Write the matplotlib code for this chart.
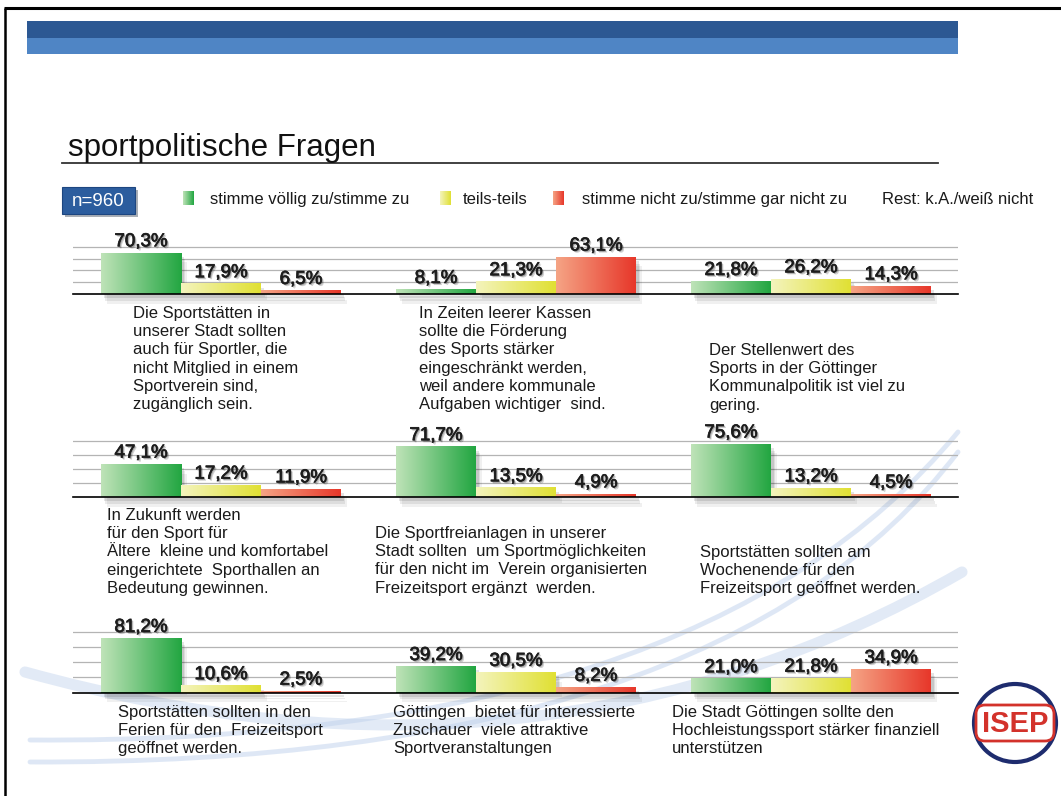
import numpy as np
import matplotlib
matplotlib.use("Agg")
import matplotlib.pyplot as plt
from matplotlib.patches import Rectangle, FancyBboxPatch, Ellipse, PathPatch
from matplotlib.path import Path
from matplotlib.colors import LinearSegmentedColormap
import matplotlib.patheffects as pe

plt.rcParams['font.family'] = ['Liberation Sans', 'DejaVu Sans']

# ---------------- data ----------------
title = "sportpolitische Fragen"
sample_label = "n=960"
series_names = ["stimme völlig zu/stimme zu", "teils-teils",
                "stimme nicht zu/stimme gar nicht zu"]
rest_note = "Rest: k.A./weiß nicht"

row1_values = [[70.3, 17.9, 6.5], [8.1, 21.3, 63.1], [21.8, 26.2, 14.3]]
row2_values = [[47.1, 17.2, 11.9], [71.7, 13.5, 4.9], [75.6, 13.2, 4.5]]
row3_values = [[81.2, 10.6, 2.5], [39.2, 30.5, 8.2], [21.0, 21.8, 34.9]]

row1_questions = [
    "Die Sportstätten in\nunserer Stadt sollten\nauch für Sportler, die\nnicht Mitglied in einem\nSportverein sind,\nzugänglich sein.",
    "In Zeiten leerer Kassen\nsollte die Förderung\ndes Sports stärker\neingeschränkt werden,\nweil andere kommunale\nAufgaben wichtiger  sind.",
    "Der Stellenwert des\nSports in der Göttinger\nKommunalpolitik ist viel zu\ngering.",
]
row2_questions = [
    "In Zukunft werden\nfür den Sport für\nÄltere  kleine und komfortabel\neingerichtete  Sporthallen an\nBedeutung gewinnen.",
    "Die Sportfreianlagen in unserer\nStadt sollten  um Sportmöglichkeiten\nfür den nicht im  Verein organisierten\nFreizeitsport ergänzt  werden.",
    "Sportstätten sollten am\nWochenende für den\nFreizeitsport geöffnet werden.",
]
row3_questions = [
    "Sportstätten sollten in den\nFerien für den  Freizeitsport\ngeöffnet werden.",
    "Göttingen  bietet für interessierte\nZuschauer  viele attraktive\nSportveranstaltungen",
    "Die Stadt Göttingen sollte den\nHochleistungssport stärker finanziell\nunterstützen",
]

# ---------------- style / layout ----------------
W, H = 1061, 796
fig = plt.figure(figsize=(W / 100, H / 100), dpi=100)
fig.patch.set_facecolor("white")

bg = fig.add_axes([0, 0, 1, 1], zorder=0)
bg.set_xlim(0, W)
bg.set_ylim(H, 0)
bg.axis("off")

grad_pairs = [("#bfe3b8", "#22a641"), ("#f4f4bd", "#e0e033"), ("#f5a485", "#e7372a")]
cmaps = [LinearSegmentedColormap.from_list("g%d" % i, p) for i, p in enumerate(grad_pairs)]
ramp = np.linspace(0, 1, 128).reshape(1, -1)

# slide frame
bg.plot([4, W], [8, 8], color="black", lw=2.2, solid_capstyle="butt")
bg.plot([5, 5], [8, H], color="black", lw=1.8, solid_capstyle="butt")

# header bars
bg.add_patch(Rectangle((27, 21), 931, 17, fc="#2c5893", ec="none"))
bg.add_patch(Rectangle((27, 38), 931, 16, fc="#4f85c5", ec="none"))

# decorative swooshes
def swoosh(p0, p1, p2, lw, alpha):
    path = Path([p0, p1, p2], [Path.MOVETO, Path.CURVE3, Path.CURVE3])
    bg.add_patch(PathPatch(path, fill=False, ec="#bfd1ec", lw=lw, alpha=alpha,
                           capstyle="round", zorder=0.5))

swoosh((25, 672), (540, 815), (962, 572), 8, 0.45)
swoosh((30, 740), (700, 745), (958, 432), 3.5, 0.5)
swoosh((30, 762), (720, 765), (958, 452), 3.5, 0.5)

# title and underline
bg.text(68, 156, title, fontsize=22.5, color="#111111", va="baseline", ha="left")
bg.plot([62, 938], [162.5, 162.5], color="#333333", lw=1.3)

# n box
bg.add_patch(FancyBboxPatch((62, 187), 73, 27, boxstyle="square,pad=0",
                            fc="#2c5d9e", ec="#1d4680", lw=0.8,
                            path_effects=[pe.SimplePatchShadow(offset=(2, -2.5), alpha=0.35),
                                          pe.Normal()]))
bg.text(98.5, 201, sample_label, color="white", fontsize=13.5, ha="center", va="center")

# legend
leg_sq_x = [183, 440, 553]
leg_txt_x = [210, 463, 582]
for i in range(3):
    sq = Rectangle((leg_sq_x[i], 191), 11, 14, fc=grad_pairs[i][1], ec="none")
    bg.add_patch(sq)
    im = bg.imshow(ramp, cmap=cmaps[i], extent=(leg_sq_x[i], leg_sq_x[i] + 11, 205, 191),
                   aspect="auto", zorder=2)
    im.set_clip_path(sq)
    bg.text(leg_txt_x[i], 204, series_names[i], fontsize=12, color="#1a1a1a",
            va="baseline", ha="left")
bg.text(882, 204, rest_note, fontsize=12, color="#1a1a1a", va="baseline", ha="left")
bg.set_xlim(0, W)
bg.set_ylim(H, 0)

# chart rows
rows_values = [row1_values, row2_values, row3_values]
rows_questions = [row1_questions, row2_questions, row3_questions]
base_px = [294, 497, 692.5]
px_per_pct = [0.59, 0.705, 0.67]
grid_step = [20, 20, 22.4]
axes_h_px = 80
x_left, x_right = 73, 958
col_start, col_step, bar_w = 101, 295, 80
text_pos = [[(133, 313), (419, 313), (709, 350)],
            [(107, 515), (375, 533), (700, 552)],
            [(118, 712), (393, 712), (672, 712)]]

bar_shadow = [pe.SimplePatchShadow(offset=(2, -3), shadow_rgbFace="k", alpha=0.10),
              pe.SimplePatchShadow(offset=(3, -5), shadow_rgbFace="k", alpha=0.08),
              pe.SimplePatchShadow(offset=(4, -7), shadow_rgbFace="k", alpha=0.06),
              pe.Normal()]
label_shadow = [pe.SimplePatchShadow(offset=(1.5, -1.5), shadow_rgbFace="#000000", alpha=0.18),
                pe.SimplePatchShadow(offset=(0.8, -0.8), shadow_rgbFace="#000000", alpha=0.35),
                pe.Stroke(linewidth=0.5, foreground="#1c1c1c"),
                pe.Normal()]

for r in range(3):
    ax = fig.add_axes([x_left / W, 1 - base_px[r] / H, (x_right - x_left) / W, axes_h_px / H],
                      zorder=1)
    ax.patch.set_visible(False)
    ymax = axes_h_px / px_per_pct[r]
    for c in range(3):
        vals = rows_values[r][c]
        xs = [col_start + col_step * c + bar_w * (s + 0.5) for s in range(3)]
        bars = ax.bar(xs, vals, width=bar_w, color=[p[1] for p in grad_pairs],
                      edgecolor="none", zorder=3, clip_on=False, path_effects=bar_shadow)
        for s, b in enumerate(bars):
            x0, w, h = b.get_x(), b.get_width(), b.get_height()
            im = ax.imshow(ramp, cmap=cmaps[s], extent=(x0, x0 + w, 0, h),
                           aspect="auto", zorder=4)
            im.set_clip_path(b)
            lbl = ("%.1f" % vals[s]).replace(".", ",") + "%"
            ax.annotate(lbl, (xs[s], h), xytext=(0, 4.5), textcoords="offset points",
                        ha="center", va="baseline", fontsize=13.5, color="#1c1c1c",
                        zorder=6, path_effects=label_shadow, annotation_clip=False)
        tx, ty = text_pos[r][c]
        bg.text(tx, ty - 7, rows_questions[r][c], fontsize=12, color="#1a1a1a",
                ha="left", va="top", linespacing=1.27)
    ax.set_xlim(x_left, x_right)
    ax.set_ylim(0, ymax)
    ax.set_yticks([grid_step[r] * k for k in range(1, 5)])
    ax.set_xticks([])
    ax.grid(axis="y", color="#b4b4b4", lw=0.9)
    ax.set_axisbelow(True)
    ax.tick_params(length=0, labelleft=False, labelbottom=False)
    for sp in ["top", "left", "right"]:
        ax.spines[sp].set_visible(False)
    ax.spines["bottom"].set_color("black")
    ax.spines["bottom"].set_linewidth(1.2)
    ax.spines["bottom"].set_zorder(5)

# ISEP logo
bg.add_patch(Ellipse((1015, 723), 82, 78, fill=False, ec="#1e2c6e", lw=3.0, zorder=3))
bg.add_patch(FancyBboxPatch((976, 705), 78, 36, boxstyle="round,pad=0,rounding_size=9",
                            fc="white", ec="#d3322b", lw=2, zorder=4))
bg.text(1015, 724, "ISEP", fontsize=21, fontweight="bold", color="#d3322b",
        ha="center", va="center", zorder=5)

fig.savefig("out.png", dpi=100)
